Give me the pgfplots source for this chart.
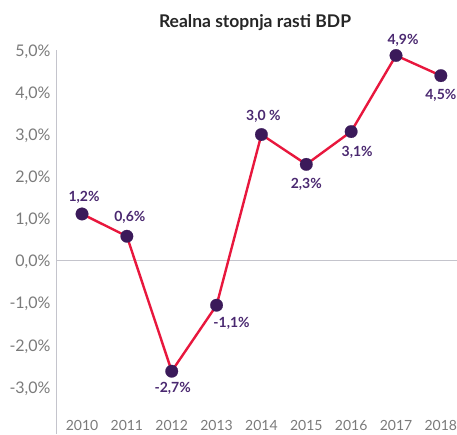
\documentclass[border=0pt]{standalone}
\usepackage{fontspec}
\setmainfont{Lato}
\usepackage{pgfplots}
\pgfplotsset{compat=1.18}
\definecolor{linered}{HTML}{E8173D}
\definecolor{dotpurple}{HTML}{3B1A5A}
\definecolor{lblpurple}{HTML}{4A2870}
\definecolor{tickgrey}{HTML}{7A7A7A}
\definecolor{axisgrey}{HTML}{C4C4CC}

\begin{document}
\begin{tikzpicture}
\begin{axis}[
  scale only axis,
  width=401pt, height=370pt,
  xmin=-0.58, xmax=8.36,
  ymin=-3.8, ymax=5.0,
  axis x line*=bottom,
  axis y line*=left,
  x axis line style={draw=none},
  y axis line style={axisgrey, line width=1pt, -},
  xtick={0,1,2,3,4,5,6,7,8},
  xticklabels={2010,2011,2012,2013,2014,2015,2016,2017,2018},
  ytick={-3,-2,-1,0,1,2,3,4,5},
  yticklabels={{-3,0\%},{-2,0\%},{-1,0\%},{0,0\%},{1,0\%},{2,0\%},{3,0\%},{4,0\%},{5,0\%}},
  major tick length=0pt,
  yticklabel style={font=\fontsize{16}{18}\selectfont, text=tickgrey, xshift=-2pt, yshift=-2pt},
  xticklabel style={font=\fontsize{14}{16}\selectfont, text=tickgrey, yshift=3pt},
  clip=false,
]
% zero line
\draw[axisgrey, line width=1pt] (axis cs:-0.58,0) -- (axis cs:8.36,0);

\pgfplotstableread{
x y
0 1.1
1 0.57
2 -2.64
3 -1.07
4 2.99
5 2.28
6 3.06
7 4.87
8 4.39
}\gdp

\addplot[linered, line width=2.4pt, no marks] table {\gdp};
\addplot[only marks, mark=*, mark size=6.3pt, color=dotpurple,
  mark options={fill=dotpurple, draw=dotpurple, line width=0.2pt}] table {\gdp};

% data labels
\begin{scope}[every node/.style={font=\bfseries\fontsize{14}{16}\selectfont, text=lblpurple}]
\node at ([shift={(2pt,17pt)}]axis cs:0,1.1) {1,2\%};
\node at ([shift={(3pt,19pt)}]axis cs:1,0.57) {0,6\%};
\node at ([shift={(1pt,-17pt)}]axis cs:2,-2.64) {-2,7\%};
\node at ([shift={(15pt,-18pt)}]axis cs:3,-1.07) {-1,1\%};
\node at ([shift={(2pt,18pt)}]axis cs:4,2.99) {3,0 \%};
\node at ([shift={(0pt,-20pt)}]axis cs:5,2.28) {2,3\%};
\node at ([shift={(6pt,-21pt)}]axis cs:6,3.06) {3,1\%};
\node at ([shift={(7pt,15pt)}]axis cs:7,4.87) {4,9\%};
\node at ([shift={(0pt,-20pt)}]axis cs:8,4.39) {4,5\%};
\end{scope}
\end{axis}
% extend y axis line to bottom
\draw[axisgrey, line width=1pt] (current axis.south west) -- ++(0,-14pt);
\node[font=\bfseries\fontsize{17.5}{20}\selectfont, text=black!85] at ([shift={(199pt,397pt)}]current axis.south west) {Realna stopnja rasti BDP};
\pgfresetboundingbox
\path ([shift={(-56pt,-14pt)}]current axis.south west) rectangle ([shift={(401pt,420pt)}]current axis.south west);
\end{tikzpicture}
\end{document}
